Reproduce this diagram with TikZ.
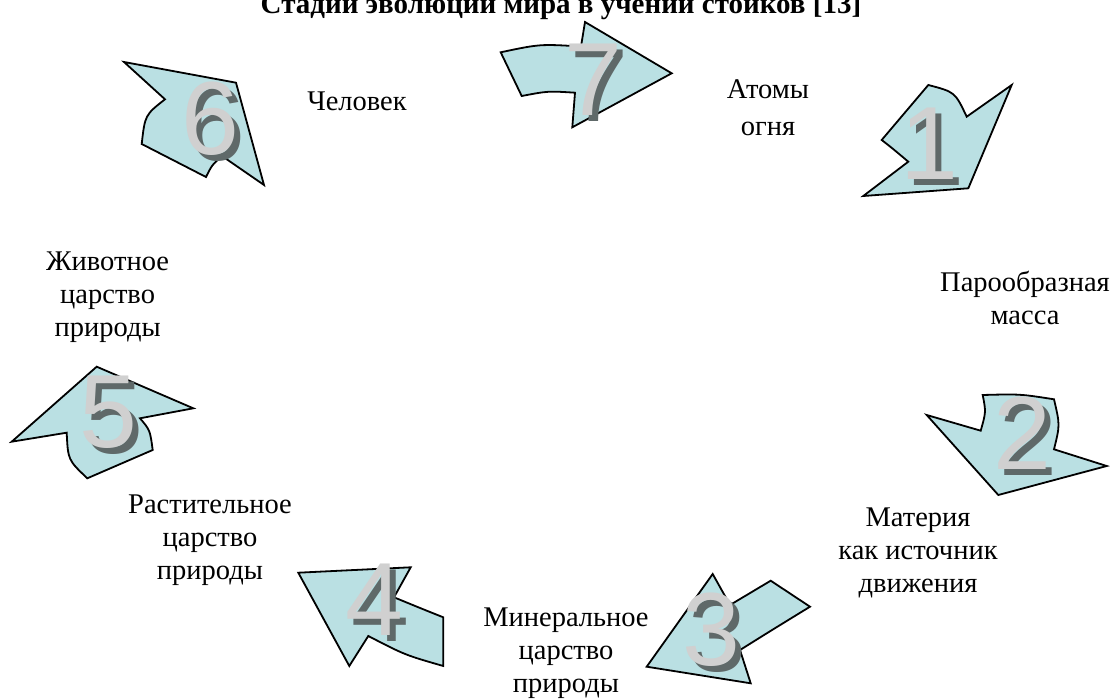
\documentclass[tikz,border=0pt]{standalone}
\usepackage{fontspec}
\setmainfont{Liberation Serif}
\newfontfamily\digitfamily{Liberation Sans}
\definecolor{arrowfill}{HTML}{BAE0E3}
\definecolor{shadowgray}{HTML}{5F6969}
\definecolor{facegray}{HTML}{D0D0D0}
\newcommand{\digitfont}{\digitfamily\fontsize{104}{104}\selectfont}
% digit with a dark drop shadow (shadow offset right and down)
\newcommand{\shadowdigit}[1]{\rlap{\kern6pt\raisebox{-6pt}[0pt][0pt]{\textcolor{shadowgray}{#1}}}\textcolor{facegray}{#1}}
\tikzset{
  arr/.style={draw=black, line width=1.8pt, fill=arrowfill, line join=miter},
  lbl/.style={font=\fontsize{28.5}{33}\selectfont, align=center, inner sep=0pt},
  bigdigit/.style={font=\digitfont, inner sep=0pt},
}
\begin{document}
\begin{tikzpicture}[x=1pt, y=-1pt]
\useasboundingbox (0,0) rectangle (1117,700);
\fill[white] (0,0) rectangle (1117,700);

% title (cut off at top, as in the source)
\node[font=\bfseries\fontsize{29}{33}\selectfont, anchor=base, inner sep=0pt] (title) at (561,14) {Стадии эволюции мира в учении стоиков [13]};

% arrow 7
\path[arr] (500.7,52.3) .. controls (540,44) .. (581,46.5) -- (585,22) -- (671.7,73.3) -- (572.3,127.3) -- (575,92.7) .. controls (548,91) .. (521.7,96) -- cycle;
% arrow 1
\path[arr] (928.3,85) .. controls (955,92) .. (966.7,116.7) -- (1011.7,85) -- (968.3,188.3) -- (863.3,196) -- (908.3,161.7) .. controls (892,148) .. (881.7,140) -- cycle;
% arrow 2
\path[arr] (926.7,415) -- (980.7,430.7) .. controls (986,412) .. (982.7,395) .. controls (1020,394) .. (1054,399.3) .. controls (1060,425) .. (1054,449.3) -- (1106.7,466) -- (998.3,495) -- cycle;
% arrow 3
\path[arr] (712.7,574) -- (730,605) -- (770.7,580.7) -- (810,606.7) .. controls (772,630) .. (740,650) -- (750.7,683.3) -- (646.7,666.7) -- cycle;
% arrow 4
\path[arr] (298.3,572.7) -- (410.7,567.3) -- (394,597.3) .. controls (420,608) .. (443.3,617.3) -- (443.3,666) .. controls (405,655) .. (368.3,636) -- (349.3,666) -- cycle;
% arrow 5
\path[arr] (96.7,366.7) -- (193.3,408.3) -- (140,418.3) .. controls (150,430) .. (152.7,450) -- (87.3,478.3) .. controls (68,460) .. (66.7,432.7) -- (11.7,441.7) -- cycle;
% arrow 6
\path[arr] (124,62) -- (236,82.7) -- (264,185) -- (222,156) .. controls (212,165) .. (206,177) -- (141.7,144) .. controls (145,115) .. (165,99.3) -- cycle;

% digits
\node[bigdigit] (d1) at (929,144) {\shadowdigit{1}};
\node[bigdigit] (d2) at (1022,433) {\shadowdigit{2}};
\node[bigdigit] (d3) at (711,630) {\shadowdigit{3}};
\node[bigdigit] (d4) at (374,600) {\shadowdigit{4}};
\node[bigdigit] (d5) at (108,412) {\shadowdigit{5}};
\node[bigdigit] (d6) at (210,119) {\shadowdigit{6}};
\node[bigdigit] (d7) at (593,80) {\shadowdigit{7}};

% labels
\node[lbl, font=\fontsize{28.5}{37}\selectfont] (atoms) at (768,107.5) {Атомы\\огня};
\node[lbl] (man) at (357,101.6) {Человек};
\node[lbl] (vapour) at (1025,297.7) {Парообразная\\масса};
\node[lbl] (animal) at (107.6,297) {Животное\\царство\\природы};
\node[lbl] (matter) at (918,553) {Материя\\как источник\\движения};
\node[lbl] (mineral) at (566,653) {Минеральное\\царство\\природы};
\node[lbl] (plant) at (210,540.4) {Растительное\\царство\\природы};
\end{tikzpicture}
\end{document}
